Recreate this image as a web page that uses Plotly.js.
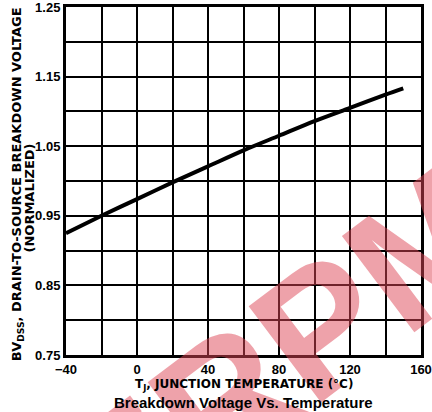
<!DOCTYPE html>
<html>
<head>
<meta charset="utf-8">
<script src="https://cdn.plot.ly/plotly-3.0.1.min.js"></script>
<style>html,body{margin:0;padding:0;background:#fff;}#chart{width:432px;height:412px;}</style>
</head>
<body>
<div id="chart"></div>
<script>
// Junction temperature (°C)
const temperature = [-40, -20, 0, 20, 40, 60, 80, 100, 120, 140, 150];
// Normalized drain-to-source breakdown voltage
const bvdss = [0.925, 0.950, 0.974, 0.998, 1.021, 1.044, 1.065, 1.086, 1.105, 1.124, 1.133];

const xTickVals = [-40, -20, 0, 20, 40, 60, 80, 100, 120, 140, 160];
const xTickText = ['\u221240', '', '0', '', '40', '', '80', '', '120', '', '160'];
const yTickVals = [0.75, 0.80, 0.85, 0.90, 0.95, 1.00, 1.05, 1.10, 1.15, 1.20, 1.25];
const yTickText = ['0.75', '', '0.85', '', '0.95', '', '1.05', '', '1.15', '', '1.25'];

const fontFam = 'Liberation Sans, Arial, sans-serif';
const wideFam = 'DejaVu Sans, Liberation Sans, sans-serif';

const trace = {
  x: temperature, y: bvdss, type: 'scatter', mode: 'lines',
  line: {color: '#000', width: 4, shape: 'spline', smoothing: 0.8}, hoverinfo: 'skip'
};

const layout = {
  width: 432, height: 412,
  margin: {l: 66, r: 11, t: 7, b: 57},
  paper_bgcolor: '#fff', plot_bgcolor: '#fff',
  showlegend: false,
  font: {family: fontFam, color: '#000'},
  xaxis: {
    range: [-40, 160], tickmode: 'array', tickvals: xTickVals, ticktext: xTickText,
    showgrid: true, gridcolor: '#000', gridwidth: 2,
    showline: true, linecolor: '#000', linewidth: 3, mirror: true,
    zeroline: false, ticks: '', ticklen: 0, ticklabeloverflow: 'allow',
    tickfont: {family: fontFam, size: 13, weight: 700, color: '#000'}
  },
  yaxis: {
    range: [0.75, 1.25], tickmode: 'array', tickvals: yTickVals, ticktext: yTickText,
    showgrid: true, gridcolor: '#000', gridwidth: 2,
    showline: true, linecolor: '#000', linewidth: 3, mirror: true,
    zeroline: false, ticks: '', ticklen: 0, ticklabeloverflow: 'allow',
    tickfont: {family: fontFam, size: 13, weight: 700, color: '#000'}
  },
  annotations: [
    {text: 'ERPM', xref: 'paper', yref: 'paper', x: 0.61, y: 0.0,
     xanchor: 'center', yanchor: 'middle', showarrow: false, textangle: -37,
     font: {family: fontFam, size: 175, weight: 900, color: 'rgba(222,70,85,0.5)'}},
    {text: 'BV<sub>DSS</sub>, DRAIN-TO-SOURCE BREAKDOWN VOLTAGE', xref: 'paper', yref: 'paper',
     x: -0.136, y: 0.49, xanchor: 'center', yanchor: 'middle', showarrow: false, textangle: -90,
     font: {family: wideFam, size: 13, weight: 700, color: '#000'}},
    {text: '(NORMALIZED)', xref: 'paper', yref: 'paper',
     x: -0.104, y: 0.45, xanchor: 'center', yanchor: 'middle', showarrow: false, textangle: -90,
     font: {family: wideFam, size: 13, weight: 700, color: '#000'}},
    {text: 'T<sub>J</sub>, JUNCTION TEMPERATURE (°C)', xref: 'paper', yref: 'paper',
     x: 0.5, y: -0.087, xanchor: 'center', yanchor: 'middle', showarrow: false,
     font: {family: wideFam, size: 12, weight: 700, color: '#000'}},
    {text: 'Breakdown Voltage Vs. Temperature', xref: 'paper', yref: 'paper',
     x: 0.5, y: -0.137, xanchor: 'center', yanchor: 'middle', showarrow: false,
     font: {family: fontFam, size: 15, weight: 700, color: '#000'}}
  ]
};

Plotly.newPlot('chart', [trace], layout, {displayModeBar: false, staticPlot: true});
</script>
</body>
</html>
